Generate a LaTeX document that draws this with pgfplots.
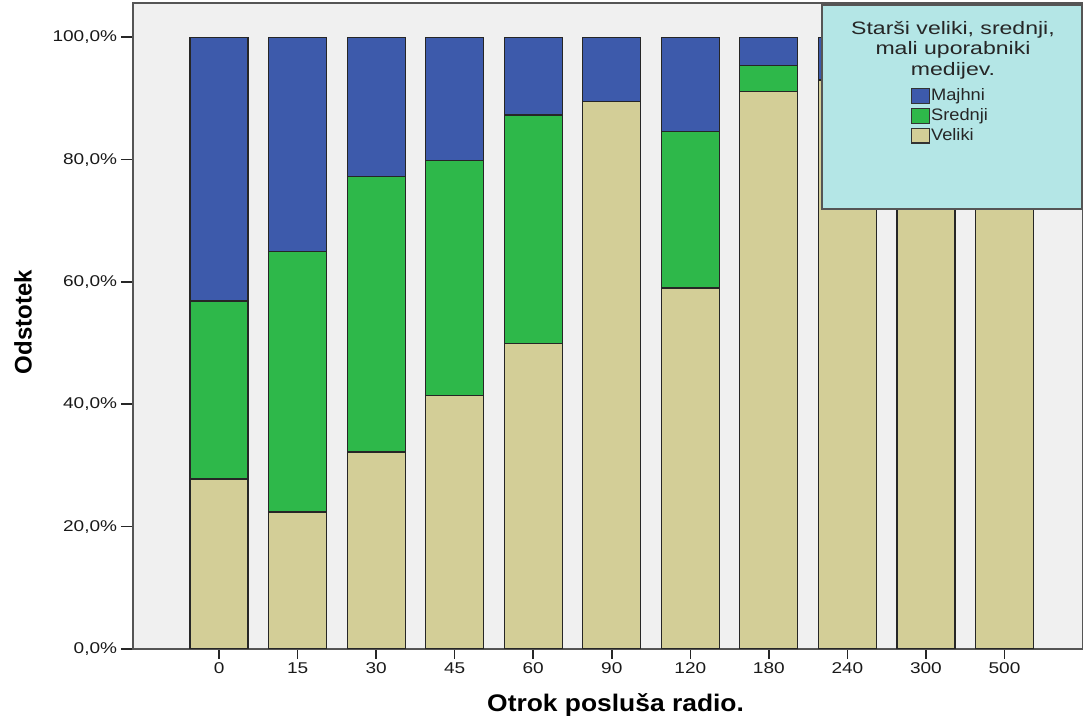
\documentclass[border=0pt]{standalone}
\usepackage{pgfplots}
\pgfplotsset{compat=1.18}
\usepackage{pgfplotstable}
\usepackage{fontspec}
\setmainfont{Liberation Sans}
\newfontfamily\tickfont[FakeStretch=1.22]{Liberation Sans}
\newfontfamily\titlefont[FakeStretch=1.1]{Liberation Sans}
\newfontfamily\legtitlefont[FakeStretch=1.28]{Liberation Sans}
\newfontfamily\legfont[FakeStretch=1.1]{Liberation Sans}
\definecolor{cblue}{HTML}{3D5AAB}
\definecolor{cgreen}{HTML}{2EB84A}
\definecolor{ctan}{HTML}{D3CE97}
\definecolor{cbg}{HTML}{F0F0F0}
\definecolor{clegend}{HTML}{B4E6E6}
\definecolor{cframe}{HTML}{555555}

\pgfplotstableread{
x  V     S     M
0  27.8  29.1  43.1
1  22.4  42.6  35.0
2  32.2  45.1  22.7
3  41.5  38.4  20.1
4  50.0  37.3  12.7
5  89.5  0.0   10.5
6  59.0  25.6  15.4
7  91.1  4.3   4.6
8  93.0  0.0   7.0
9  100.0 0.0   0.0
10 100.0 0.0   0.0
}\datatable

\begin{document}
\begin{tikzpicture}
\begin{axis}[
  name=main,
  scale only axis,
  width=475pt, height=323pt,
  ybar stacked,
  bar width=29pt,
  xmin=-1.096, xmax=11.0,
  ymin=0, ymax=105.6,
  axis background/.style={fill=cbg},
  axis line style={draw=cframe, line width=1pt},
  tick align=outside,
  xtick pos=left, ytick pos=left,
  xtick={0,1,2,3,4,5,6,7,8,9,10},
  xticklabels={0,15,30,45,60,90,120,180,240,300,500},
  ytick={0,20,40,60,80,100},
  yticklabels={{0,0\%},{20,0\%},{40,0\%},{60,0\%},{80,0\%},{100,0\%}},
  /pgf/number format/assume math mode=true,
  tick style={draw=black!85, line width=0.8pt},
  xtick style={/pgfplots/major tick length=5pt},
  ytick style={/pgfplots/major tick length=6pt},
  ticklabel style={font=\tickfont\fontsize{7.8}{9}\selectfont, text=black!90},
  yticklabel style={inner sep=3.5pt},
  xticklabel style={inner sep=2.5pt},
  xlabel={Otrok posluša radio.},
  ylabel={Odstotek},
  xlabel style={font=\titlefont\bfseries\fontsize{12}{14}\selectfont, at={(axis description cs:0.508,-0.096)}, anchor=base},
  ylabel style={font=\bfseries\fontsize{12}{14}\selectfont, at={(axis description cs:-0.1158,0.506)}, anchor=center},
  every axis plot/.append style={draw=black!85, line width=0.6pt},
]
\addplot[fill=ctan] table[x=x, y=V] {\datatable};
\addplot[fill=cgreen] table[x=x, y=S] {\datatable};
\addplot[fill=cblue] table[x=x, y=M] {\datatable};
\end{axis}
% legend box and title (annotation on top of the bars)
\draw[fill=clegend, draw=cframe, line width=0.9pt] ([xshift=-130.5pt,yshift=-103pt]main.north east) rectangle ([xshift=-0.5pt,yshift=-1pt]main.north east);
\node[anchor=north, align=center, inner sep=0pt, font=\legtitlefont\fontsize{9}{10.25}\selectfont, text=black!85] at ([xshift=-65pt,yshift=-8.8pt]main.north east) {Starši veliki, srednji,\\mali uporabniki\\medijev.};
% legend entries
\begin{axis}[
  at={(main.south west)}, anchor=south west,
  scale only axis,
  width=475pt, height=323pt,
  xmin=0, xmax=1, ymin=0, ymax=1,
  hide axis,
  legend cell align=left,
  legend style={at={(rel axis cs:0.818,0.870)}, anchor=north west, draw=none, fill=none,
    font=\legfont\fontsize{8.3}{9}\selectfont, inner sep=0pt, row sep=1.2pt,
    nodes={inner sep=0.6pt, text=black!85}},
  legend image code/.code={\draw[#1, draw=black!80, line width=0.7pt] (0pt,-3.7pt) rectangle (9pt,3.7pt);},
]
\addlegendimage{fill=cblue}
\addlegendentry{Majhni}
\addlegendimage{fill=cgreen}
\addlegendentry{Srednji}
\addlegendimage{fill=ctan}
\addlegendentry{Veliki}
\end{axis}
\pgfresetboundingbox
\path (main.south west) ++(-66.5pt,-34.5pt) rectangle ++(541.5pt,359pt);
\end{tikzpicture}
\end{document}
